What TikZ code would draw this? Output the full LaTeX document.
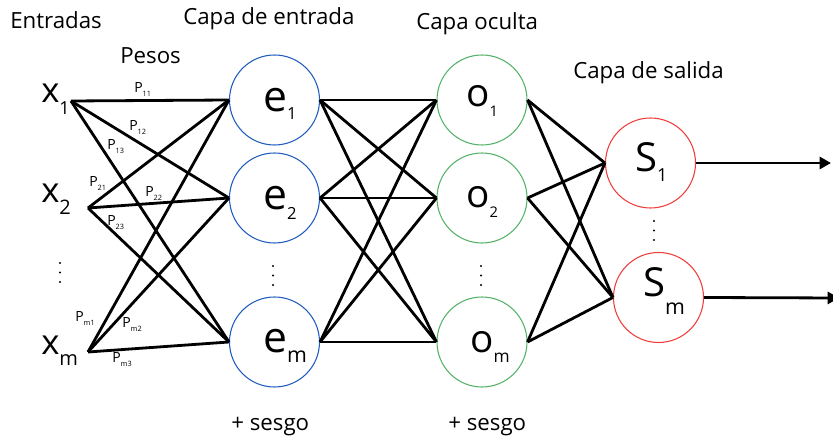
\documentclass[tikz,border=0pt]{standalone}
\usepackage{fontspec}
\setmainfont{Open Sans}
\usetikzlibrary{arrows.meta}

\definecolor{inblue}{RGB}{30,92,190}
\definecolor{hidgreen}{RGB}{84,178,104}
\definecolor{outred}{RGB}{240,60,60}

% letter with a lowered index: size, letter, index size, index, drop
\newcommand\nlab[5]{{\fontsize{#1}{#1}\selectfont #2}\raisebox{-#5}{\fontsize{#3}{#3}\selectfont #4}}
% weight label P with its index
\newcommand\wlab[1]{{\fontsize{10.5}{11}\selectfont P}\raisebox{-2.5pt}{\fontsize{5.5}{6}\selectfont #1}}

\begin{document}
\begin{tikzpicture}[x=0.75pt,y=-0.75pt,
  neuron/.style={circle,line width=0.8pt,minimum size=67.5pt,inner sep=0pt},
  inneuron/.style={neuron,draw=inblue},
  hidneuron/.style={neuron,draw=hidgreen},
  outneuron/.style={neuron,draw=outred},
  wire/.style={line width=2.1pt,black},
  outwire/.style={wire,-{Triangle[length=8.5pt,width=9pt]}},
  heading/.style={anchor=base west,inner sep=0pt,font=\fontsize{16.7}{17}\selectfont},
  sym/.style={anchor=base west,inner sep=0pt},
  weight/.style={anchor=base west,inner sep=0pt}]
\useasboundingbox (0,0) rectangle (833,438);

% neurons
\node[inneuron] (e1) at (274.5,100) {};
\node[inneuron] (e2) at (274.5,198) {};
\node[inneuron] (em) at (274.5,342) {};
\node[hidneuron] (o1) at (482,100) {};
\node[hidneuron] (o2) at (482,198) {};
\node[hidneuron] (om) at (482,342) {};
\node[outneuron] (s1) at (650.5,163) {};
\node[outneuron] (sm) at (658.5,297.5) {};

% input ends and output ends
\coordinate (x1p) at (71,101);
\coordinate (x2p) at (88,208);
\coordinate (xmp) at (88,352);
\coordinate (y1) at (831,163);
\coordinate (ym) at (839,298);

% symbols
\node[sym] (x1l) at (41,103) {\nlab{26}{x}{13.5}{1}{9pt}};
\node[sym] (x2l) at (41,203) {\nlab{26}{x}{15}{2}{9pt}};
\node[sym] (xml) at (41,355) {\nlab{26}{x}{15}{m}{8pt}};
\node[sym] (e1l) at (263,112) {\nlab{32}{e}{12.5}{1}{5.5pt}};
\node[sym] (e2l) at (263,210) {\nlab{32}{e}{12.5}{2}{7pt}};
\node[sym] (eml) at (263,353) {\nlab{32}{e}{16}{m}{7pt}};
\node[sym] (o1l) at (466,107) {\nlab{29}{o}{11}{1}{7.5pt}};
\node[sym] (o2l) at (466,208) {\nlab{29}{o}{11}{2}{7.5pt}};
\node[sym] (oml) at (470,353) {\nlab{29}{o}{13}{m}{7pt}};
\node[sym] (s1l) at (635,172) {\nlab{30}{S}{13.5}{1}{7pt}};
\node[sym] (sml) at (643,297) {\nlab{30}{S}{16}{m}{13.5pt}};

% headings
\node[heading] (hin) at (10,29) {Entradas};
\node[heading] (hw) at (120,64) {Pesos};
\node[heading] (hel) at (183,25) {Capa de entrada};
\node[heading] (hhl) at (416,30) {Capa oculta};
\node[heading] (hol) at (573,79) {Capa de salida};
\node[heading] (b1) at (231,431) {+ sesgo};
\node[heading] (b2) at (448,431) {+ sesgo};

% weights
\node[weight] (p11) at (134,93) {\wlab{11}};
\node[weight] (p12) at (129,131) {\wlab{12}};
\node[weight] (p13) at (107,150) {\wlab{13}};
\node[weight] (p21) at (89,187) {\wlab{21}};
\node[weight] (p22) at (145,197) {\wlab{22}};
\node[weight] (p23) at (107,226) {\wlab{23}};
\node[weight] (pm1) at (75,322) {\wlab{m1}};
\node[weight] (pm2) at (122,328) {\wlab{m2}};
\node[weight] (pm3) at (112,363) {\wlab{m3}};

% inputs to input layer
\foreach \a in {x1p,x2p,xmp}
  \foreach \b in {e1,e2,em}
    \draw[wire] (\a) -- (\b.west);

% input layer to hidden layer
\foreach \a in {e1,e2,em}
  \foreach \b in {o1,o2,om}
    \draw[wire] (\a.east) -- (\b.west);

% hidden layer to output layer
\foreach \a in {o1,o2,om}
  \foreach \b in {s1,sm}
    \draw[wire] (\a.east) -- (\b.west);

% outputs
\draw[outwire] (s1.east) -- (y1);
\draw[outwire] (sm.east) -- (ym);

% vertical ellipses
\foreach \cx/\cy in {60/263, 273/266, 481/266, 654/221}
  \foreach \k in {0,1,2}
    \fill (\cx,\cy+\k*9.5) circle (1.2);
\end{tikzpicture}
\end{document}
